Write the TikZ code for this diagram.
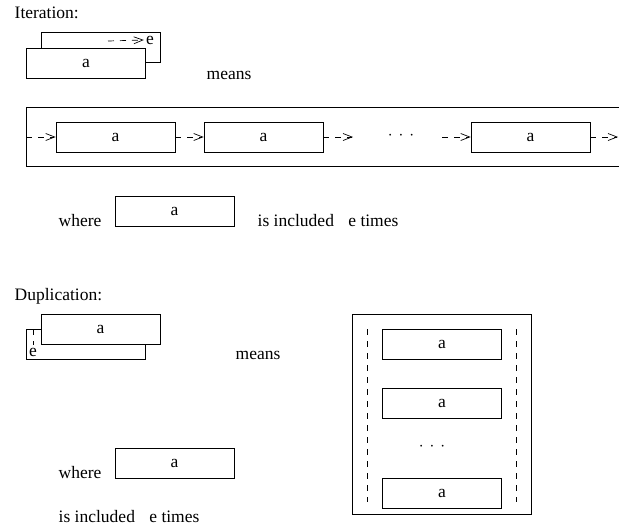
\documentclass[tikz,border=0pt]{standalone}
\usepackage{fontspec}
\setmainfont{Liberation Serif}
\usetikzlibrary{arrows.meta}

\begin{document}
\begin{tikzpicture}[x=1pt, y=-1pt, line width=0.7pt,
    font=\fontsize{17.5}{20}\selectfont,
    abox/.style={draw, fill=white, minimum width=119pt, minimum height=30pt, inner sep=0pt},
    elabel/.style={inner sep=2pt},
    dashline/.style={dash pattern=on 6pt off 6pt},
    dasharrow/.style={dashline, -{Straight Barb[length=9pt,width=7pt]}}]
  \useasboundingbox (0,0) rectangle (619,525);

  % Iteration
  \node[anchor=base west] (itertitle) at (11,18) {Iteration:};
  \node[abox] (iterback) at (100.5,47) {};
  \coordinate (iterstart) at (108,41);
  \node[elabel] (itere) at (150,40) {e};
  \draw[dasharrow] (iterstart) -- (itere.west);
  \node[abox] (iterfront) at (86,63) {a};
  \node[anchor=base west] (itermeans) at (203,79) {means};

  % unrolled row
  \draw (619,107) -- (26,107) -- (26,166) -- (619,166);
  \coordinate (rowin) at (26,137);
  \node[abox] (rowa) at (115.5,137) {a};
  \node[abox] (rowb) at (263.5,137) {a};
  \coordinate (rowbout) at (353,137);
  \node (rowdots) at (401,136) {$\cdot$\hspace{6pt}$\cdot$\hspace{6pt}$\cdot$};
  \coordinate (rowcin) at (442,137);
  \node[abox] (rowc) at (530.5,137) {a};
  \coordinate (rowout) at (618,137);
  \draw[dasharrow] (rowin) -- (rowa);
  \draw[dasharrow] (rowa) -- (rowb);
  \draw[dasharrow] (rowb) -- (rowbout);
  \draw[dasharrow] (rowcin) -- (rowc);
  \draw[dasharrow] (rowc) -- (rowout);

  \node[anchor=base west] (iterwhere) at (55,226) {where};
  \node[abox] (iterwbox) at (174.5,211) {a};
  \node[anchor=base west] (iterincl) at (254,226) {is included\hspace{10pt} e times};

  % Duplication
  \node[anchor=base west] (duptitle) at (11,300) {Duplication:};
  \node[abox] (dupback) at (85.5,344) {};
  \node[elabel] (dupe) at (33,352) {e};
  \coordinate (dupstart) at (33,329);
  \draw[dashline] (dupstart) -- (dupe.north);
  \node[abox] (dupfront) at (100.5,329) {a};
  \node[anchor=base west] (dupmeans) at (232,359) {means};

  % stacked copies
  \draw (352,314) rectangle (531,514);
  \draw[dashline] (367,329) -- (367,502);
  \draw[dashline] (516,329) -- (516,502);
  \node[abox] (stacka) at (442,344) {a};
  \node[abox] (stackb) at (442,403.5) {a};
  \node (stackdots) at (432,447) {$\cdot$\hspace{6pt}$\cdot$\hspace{6pt}$\cdot$};
  \node[abox] (stackc) at (442,493) {a};

  \node[anchor=base west] (dupwhere) at (55,478) {where};
  \node[abox] (dupwbox) at (174.5,463) {a};
  \node[anchor=base west] (dupincl) at (55,522) {is included\hspace{10pt} e times};
\end{tikzpicture}
\end{document}
